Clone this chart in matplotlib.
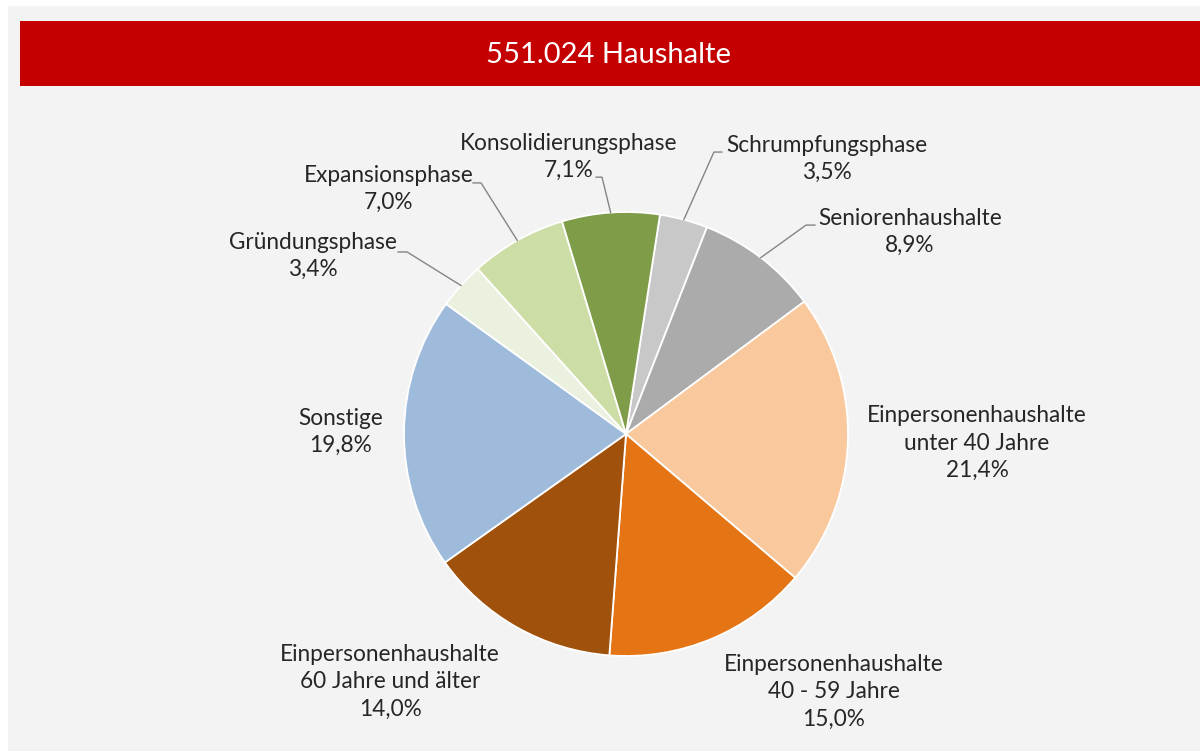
import matplotlib
matplotlib.use('Agg')
import matplotlib.pyplot as plt
from matplotlib.patches import Rectangle
import numpy as np

plt.rcParams['font.family'] = ['Lato', 'DejaVu Sans']

# data, clockwise from the top
categories = ['Schrumpfungsphase', 'Seniorenhaushalte',
              'Einpersonenhaushalte\nunter 40 Jahre',
              'Einpersonenhaushalte\n40 - 59 Jahre',
              'Einpersonenhaushalte\n60 Jahre und älter',
              'Sonstige', 'Gründungsphase', 'Expansionsphase',
              'Konsolidierungsphase']
shares = [3.5, 8.9, 21.4, 15.0, 14.0, 19.8, 3.4, 7.0, 7.1]
colors = ['#c8c8c8', '#ababab', '#f9c89c', '#e57514', '#a0520d',
          '#9fbbdc', '#ebf1df', '#cddda6', '#7f9c48']
title = '551.024 Haushalte'

# label layout in pie-radius units (center of the text block)
label_xy = [(0.905, 1.239), (1.279, 0.910), (1.581, -0.041), (0.937, -1.162),
            (-1.063, -1.117), (-1.284, 0.009), (-1.410, 0.802),
            (-1.068, 1.104), (-0.257, 1.248)]
# leader line knees (None = no leader line): knee point, end of short horizontal
knees = [((0.396, 1.270), (0.432, 1.270)), ((0.811, 0.941), (0.851, 0.941)),
         None, None, None, None,
         ((-0.986, 0.820), (-1.027, 0.820)), ((-0.653, 1.131), (-0.689, 1.131)),
         ((-0.108, 1.157), (-0.135, 1.157))]

W, H = 1200, 751
fig = plt.figure(figsize=(W / 100, H / 100), dpi=100, facecolor='white')
fig.patches.append(Rectangle((8 / W, 0), 1, 1 - 6 / H, transform=fig.transFigure,
                             facecolor='#f3f3f3', edgecolor='none', zorder=-2))
fig.patches.append(Rectangle((20 / W, 1 - 86 / H), 1, 65 / H, transform=fig.transFigure,
                             facecolor='#c40000', edgecolor='none', zorder=-1))
fig.text(608 / W, 1 - 55 / H, title, color='white', fontsize=21,
         ha='center', va='center')

ax = fig.add_axes([0, 0, 1, 1])
ax.patch.set_visible(False)
cx, cy, R = 626, 434, 222.0

wedges, _ = ax.pie(shares, colors=colors, startangle=81.2, counterclock=False,
                   radius=1, wedgeprops=dict(edgecolor='white', linewidth=1.3))
ax.set_xlim(-cx / R, (W - cx) / R)
ax.set_ylim(-(H - cy) / R, cy / R)
ax.set_aspect('equal')
ax.axis('off')

for w, name, val, xy, kn in zip(wedges, categories, shares, label_xy, knees):
    txt = name + '\n' + f'{val:.1f}'.replace('.', ',') + '%'
    ax.text(xy[0], xy[1], txt, ha='center', va='center', fontsize=16.3,
            color='#262626', linespacing=1.36)
    if kn is not None:
        mid = np.deg2rad((w.theta1 + w.theta2) / 2)
        ex, ey = np.cos(mid), np.sin(mid)
        ax.plot([ex, kn[0][0], kn[1][0]], [ey, kn[0][1], kn[1][1]],
                color='#858585', lw=1)

fig.savefig('out.png', dpi=100, facecolor=fig.get_facecolor())
